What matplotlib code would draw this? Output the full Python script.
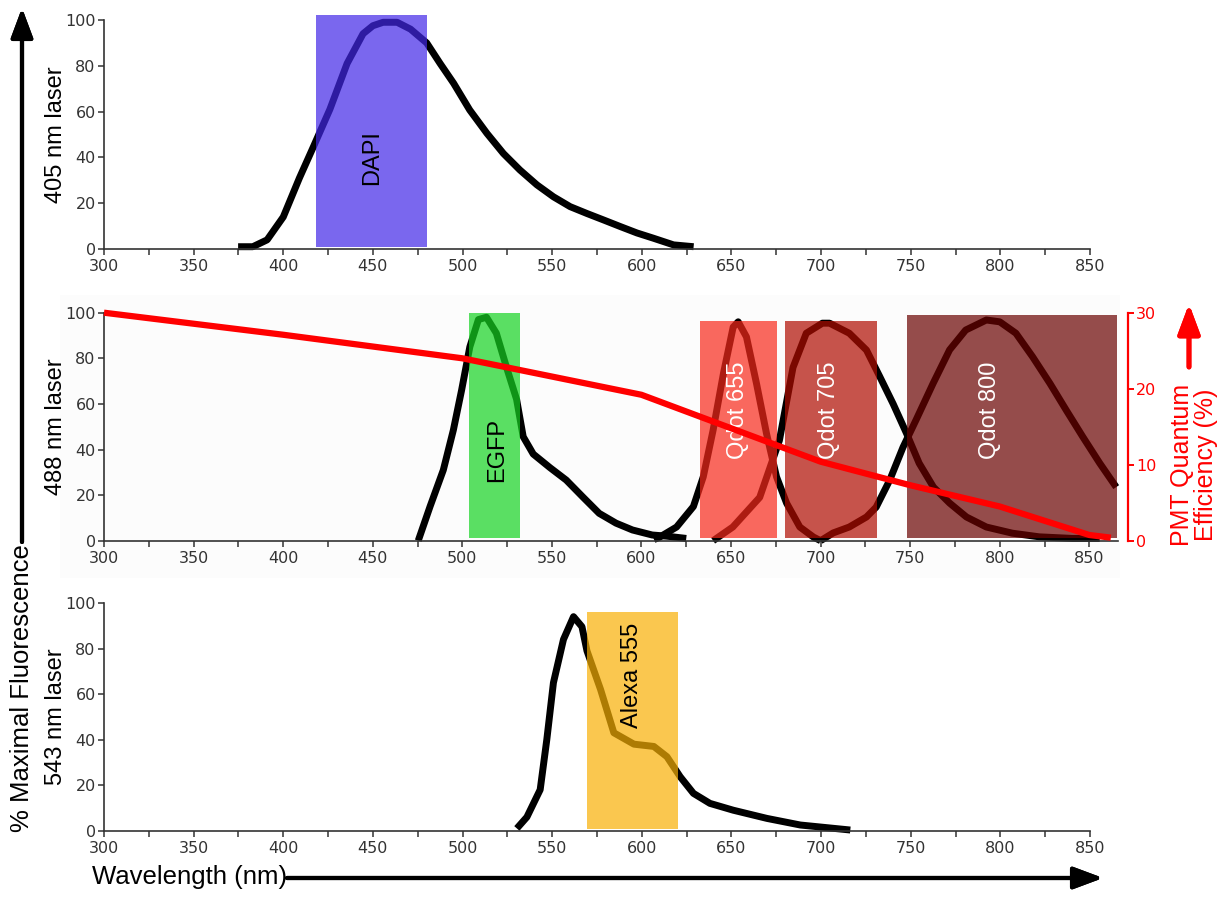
import numpy as np
import matplotlib
matplotlib.use("Agg")
import matplotlib.pyplot as plt
from matplotlib.patches import Rectangle

plt.rcParams['font.family'] = ['Liberation Sans', 'DejaVu Sans']

W, H = 1221, 898

# ---------------------------------------------------------------
# data
# 405 nm laser: DAPI emission
dapi_nm = [374.8, 383, 391, 400, 409, 417, 426, 435.6, 444.5, 450, 455.7, 463.5, 471, 480,
           487.5, 495, 504, 513.6, 522.8, 532, 541.5, 550.7, 560, 569.4, 578.6, 588,
           597.3, 606.5, 617.7, 628.9]
dapi_val = [1, 1, 4, 14, 31, 45, 61, 81, 94, 97.5, 99, 99, 96, 90,
            81, 72.4, 60.7, 50.5, 41.7, 34.5, 28, 22.8, 18.5, 15.5, 12.7, 9.8,
            7, 4.7, 1.8, 1]

# 488 nm laser: EGFP, Qdot 655, Qdot 705, Qdot 800
egfp_nm = [475.4, 482, 489.4, 495, 499.6, 504.2, 509, 513.5, 519, 524.7, 530.3, 534,
           539.6, 549, 558, 567.5, 576.4, 585.8, 595, 606, 614, 625]
egfp_val = [0, 15, 31, 48.5, 66, 85, 97, 98, 91, 76, 62, 45.6,
            38, 32, 26.6, 19, 12, 7.7, 4.7, 2.5, 2, 1]

q655_nm = [607, 610, 619.6, 629, 634.5, 640, 645.8, 651.2, 654, 658.6, 664.2, 669.8,
           675.4, 681, 688.4, 696, 700]
q655_val = [0.5, 1.5, 6, 15, 28, 48.5, 73.5, 93.7, 96, 89.4, 69, 47,
            28, 16.5, 6, 1.6, 0]

q705_nm = [640, 651, 666, 677, 684.6, 692, 701, 705, 716, 725.6, 733, 740.5, 748, 755,
           763, 772, 781.4, 792.5, 807, 822, 840.5, 855.8]
q705_val = [0, 6, 19, 44, 76, 91, 95.4, 95.4, 91, 83.6, 72, 60, 47, 34,
            23.5, 16.5, 10.4, 6, 3.3, 1.7, 1, 1]

q800_nm = [700, 707, 716, 725.6, 731, 738.6, 746, 753.3, 762.8, 772, 781, 792.5, 800,
           809, 818.3, 828, 837.3, 846.4, 855.8, 865]
q800_val = [0, 3.4, 6, 10.4, 14.7, 26.6, 41, 53, 69, 83.7, 92.4, 96.8, 96,
            91, 80.7, 69, 57, 45.5, 34, 23.5]

# PMT quantum efficiency (%)
pmt_nm = [300, 400, 500, 600, 650, 700, 750, 800, 850, 862]
pmt_qe = [30, 27.1, 24, 19.2, 14.8, 10.4, 7.3, 4.5, 0.75, 0.4]

# 543 nm laser: Alexa 555
alexa_nm = [530.3, 535.9, 543.3, 547, 550.7, 556.3, 561.9, 566.6, 569.4, 577, 584.4,
            595.6, 606.7, 614, 621.4, 628.8, 638, 651, 669.8, 688.4, 716.3]
alexa_val = [1, 6, 18, 40, 65, 84, 94, 89.6, 79, 62, 43,
             38, 37, 32.5, 23.7, 16.4, 12, 9, 5.4, 2.5, 0.3]

# filter bands: name, start nm, end nm, bottom, top
dapi_band = ['DAPI', 418.3, 480.2, 1, 102]
egfp_band = ['EGFP', 503.8, 532.3, 1.2, 100]
q655_band = ['Qdot 655', 632.8, 675.8, 1, 96.5]
q705_band = ['Qdot 705', 680.4, 731.2, 1, 96.5]
q800_band = ['Qdot 800', 748, 865.7, 1, 98.9]
alexa_band = ['Alexa 555', 569.4, 620, 0.7, 96]

x_ticks = list(range(300, 851, 50))
x_minor = list(range(325, 851, 50))
y_ticks = [0, 20, 40, 60, 80, 100]


# ---------------------------------------------------------------
def fig_box(x0, y0, x1, y1):
    # pixel box (top-left origin) -> figure fraction
    return [x0 / W, 1 - y1 / H, (x1 - x0) / W, (y1 - y0) / H]


def style_axes(ax, xmax):
    ax.set_xlim(300, xmax)
    ax.set_ylim(0, 100)
    for s in ['top', 'right']:
        ax.spines[s].set_visible(False)
    for s in ['left', 'bottom']:
        ax.spines[s].set_color('#333333')
        ax.spines[s].set_linewidth(1.2)
    ax.set_xticks(x_ticks)
    ax.set_xticks(x_minor, minor=True)
    ax.set_yticks(y_ticks)
    ax.tick_params(which='both', direction='out', length=4.5, width=1.1,
                   color='#333333', labelcolor='#333333', labelsize=11.5)
    ax.tick_params(axis='y', pad=1.5)
    ax.tick_params(axis='x', pad=3)
    for lab in ax.get_xticklabels() + ax.get_yticklabels():
        lab.set_family('DejaVu Sans')
    ax.patch.set_alpha(0)


def band(ax, b, color):
    name, x0, x1, y0, y1 = b
    ax.add_patch(Rectangle((x0, y0), x1 - x0, y1 - y0, facecolor=color, alpha=0.7,
                           edgecolor='none', zorder=3, clip_on=False))
    return name


def curve(ax, x, y):
    ax.plot(x, y, color='black', lw=5, solid_joinstyle='round',
            solid_capstyle='butt', zorder=2, clip_on=False)


fig = plt.figure(figsize=(W / 100, H / 100), dpi=100)

# faint background of middle strip
fig.add_artist(Rectangle((60 / W, 1 - 578 / H), 1060 / W, 283 / H,
                         transform=fig.transFigure, facecolor='#fcfcfc',
                         edgecolor='none', zorder=0))

# top: 405 nm
ax1 = fig.add_axes(fig_box(104, 20, 1090, 249))
style_axes(ax1, 850)
curve(ax1, dapi_nm, dapi_val)
band(ax1, dapi_band, (66 / 255, 39 / 255, 231 / 255))
ax1.text(449.6, 40, dapi_band[0], rotation=90, ha='center', va='center', fontsize=17,
         color='black', zorder=5)

# middle: 488 nm
ax2 = fig.add_axes(fig_box(104, 312.7, 1118, 540.7))
style_axes(ax2, 866)
curve(ax2, egfp_nm, egfp_val)
curve(ax2, q655_nm, q655_val)
curve(ax2, q705_nm, q705_val)
curve(ax2, q800_nm, q800_val)
band(ax2, egfp_band, (22 / 255, 211 / 255, 34 / 255))
band(ax2, q655_band, (248 / 255, 41 / 255, 27 / 255))
band(ax2, q705_band, (176 / 255, 12 / 255, 0))
band(ax2, q800_band, (105 / 255, 2 / 255, 0))
ax2.text(519.3, 40, egfp_band[0], rotation=90, ha='center', va='center', fontsize=17,
         color='black', zorder=5)
ax2.text(653.8, 57, q655_band[0], rotation=90, ha='center', va='center', fontsize=17,
         color='white', zorder=5)
ax2.text(704.6, 57, q705_band[0], rotation=90, ha='center', va='center', fontsize=17,
         color='white', zorder=5)
ax2.text(794.5, 57, q800_band[0], rotation=90, ha='center', va='center', fontsize=17,
         color='white', zorder=5)

ax2r = ax2.twinx()
ax2r.set_ylim(0, 30)
ax2r.set_yticks([0, 10, 20, 30])
for s in ['top', 'left', 'bottom']:
    ax2r.spines[s].set_visible(False)
ax2r.spines['right'].set_position(('outward', 7))
ax2r.spines['right'].set_color('red')
ax2r.spines['right'].set_linewidth(1.6)
ax2r.tick_params(axis='y', direction='out', length=4.5, width=1.4, color='red',
                 labelcolor='red', labelsize=11.5, pad=1.5)
for lab in ax2r.get_yticklabels():
    lab.set_family('DejaVu Sans')
ax2r.plot(pmt_nm, pmt_qe, color='red', lw=4.5, solid_capstyle='butt',
          zorder=6, clip_on=False)
ax2r.set_zorder(ax2.get_zorder() + 1)
ax2r.patch.set_alpha(0)

# bottom: 543 nm
ax3 = fig.add_axes(fig_box(104, 603, 1090, 830.7))
style_axes(ax3, 850)
curve(ax3, alexa_nm, alexa_val)
band(ax3, alexa_band, (248 / 255, 176 / 255, 5 / 255))
ax3.text(594.6, 68, alexa_band[0], rotation=90, ha='center', va='center', fontsize=17,
         color='black', zorder=5)

# panel labels
for lab, yc in [('405 nm laser', 134.5), ('488 nm laser', 426.7), ('543 nm laser', 716.8)]:
    fig.text(56 / W, 1 - yc / H, lab, rotation=90, ha='center', va='center', fontsize=17)

fig.text(22 / W, 1 - 688 / H, '% Maximal Fluorescence', rotation=90, ha='center',
         va='center', fontsize=18.5)
fig.text(190 / W, 1 - 877 / H, 'Wavelength (nm)', ha='center', va='center', fontsize=18.5)
fig.text(1194 / W, 1 - 465 / H, 'PMT Quantum\nEfficiency (%)', rotation=90, ha='center',
         va='center', fontsize=18, color='red', linespacing=0.95)

# arrows
arrow_style = '-|>,head_length=0.75,head_width=0.28'
fig.add_artist(plt.annotate('', xy=(22, H - 8), xytext=(22, H - 542),
                            xycoords='figure pixels', textcoords='figure pixels',
                            arrowprops=dict(arrowstyle=arrow_style, lw=3, color='black',
                                            mutation_scale=24, shrinkA=0, shrinkB=0)))
fig.add_artist(plt.annotate('', xy=(1103, H - 878), xytext=(287, H - 878),
                            xycoords='figure pixels', textcoords='figure pixels',
                            arrowprops=dict(arrowstyle=arrow_style, lw=3, color='black',
                                            mutation_scale=24, shrinkA=0, shrinkB=0)))
fig.add_artist(plt.annotate('', xy=(1189, H - 304), xytext=(1189, H - 367),
                            xycoords='figure pixels', textcoords='figure pixels',
                            arrowprops=dict(arrowstyle=arrow_style, lw=3.5, color='red',
                                            mutation_scale=24, shrinkA=0, shrinkB=0)))

fig.savefig('out.png', dpi=100)
